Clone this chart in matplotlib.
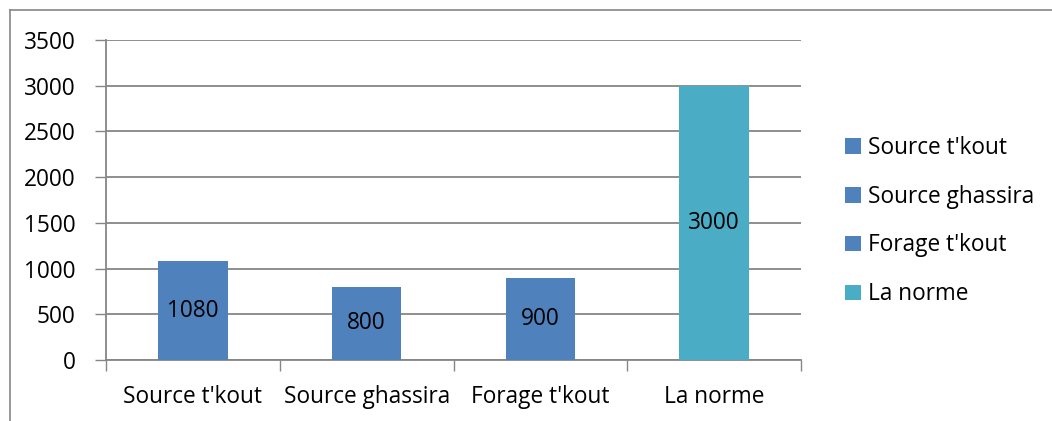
import matplotlib.pyplot as plt
from matplotlib.lines import Line2D
from matplotlib.patches import Patch

# Data
categories = ["Source t'kout", "Source ghassira", "Forage t'kout", "La norme"]
values = [1080, 800, 900, 3000]
bar_colors = ['#4F81BD', '#4F81BD', '#4F81BD', '#4BACC6']
y_ticks = [0, 500, 1000, 1500, 2000, 2500, 3000, 3500]

plt.rcParams['font.family'] = ['Open Sans', 'DejaVu Sans']
grid_col = '#868686'
fs = 16.3

fig = plt.figure(figsize=(10.52, 4.21), dpi=100)
ax = fig.add_axes([106 / 1052, 61 / 421, 695 / 1052, 320 / 421])

x = range(len(categories))
bars = ax.bar(x, values, width=0.4, color=bar_colors, zorder=3)
for b, v in zip(bars, values):
    ax.text(b.get_x() + b.get_width() / 2, v / 2, str(v), ha='center', va='center',
            fontsize=fs, color='black', zorder=4)

ax.set_xlim(-0.5, len(categories) - 0.5)
ax.set_ylim(0, 3500)
ax.set_yticks(y_ticks)
ax.set_xticks(x)
ax.set_xticklabels(categories)
ax.tick_params(axis='x', length=0, pad=18, labelsize=fs)
ax.tick_params(axis='y', length=8, width=1, color=grid_col, pad=14, labelsize=fs)

# category boundary ticks
ax.set_xticks([i - 0.5 for i in range(len(categories) + 1)], minor=True)
ax.tick_params(axis='x', which='minor', length=8, width=1, color=grid_col)

ax.yaxis.grid(True, color=grid_col, linewidth=1.3, zorder=0)
for s in ['top', 'right']:
    ax.spines[s].set_visible(False)
for s in ['left', 'bottom']:
    ax.spines[s].set_color(grid_col)
    ax.spines[s].set_linewidth(1.3)

handles = [Patch(facecolor=c) for c in bar_colors]
fig.legend(handles, categories, loc='center left', bbox_to_anchor=(825 / 1052, 1 - 221 / 421),
           frameon=False, fontsize=fs, handlelength=0.7, handleheight=0.7,
           handletextpad=0.3, labelspacing=1.1)

# outer chart border (left and top edges visible)
fig.add_artist(Line2D([10 / 1052, 10 / 1052], [0, 1 - 10 / 421], color=grid_col, linewidth=1.2))
fig.add_artist(Line2D([10 / 1052, 1], [1 - 10 / 421, 1 - 10 / 421], color=grid_col, linewidth=1.2))

fig.savefig('out.png', dpi=100)
